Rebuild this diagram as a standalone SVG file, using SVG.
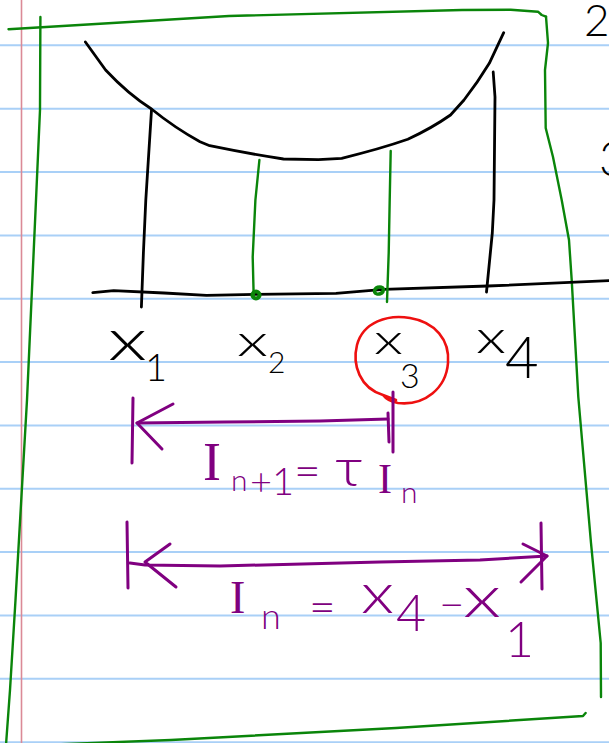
<svg xmlns="http://www.w3.org/2000/svg" width="609" height="743" viewBox="0 0 609 743">
<style>
.rule{stroke:#a9d0f7;stroke-width:2;fill:none}
.ink{fill:none;stroke-linecap:round;stroke-linejoin:round}
.blk{stroke:#000;stroke-width:2.8}
.grn{stroke:#0a850a;stroke-width:2.4}
.pur{stroke:#800080;stroke-width:3}
.red{stroke:#ee1010;stroke-width:2.6}
.t{font-family:Lato,"Open Sans","Liberation Sans",sans-serif;font-weight:300}
.s{font-family:"Liberation Serif","DejaVu Serif",serif;font-weight:400}
.tb{fill:#000}
.tp{fill:#800080}
</style>
<rect width="609" height="743" fill="#fff"/>
<g id="paper">
<path class="rule" d="M0,45.3H609M0,108.7H609M0,172H609M0,235.4H609M0,298.7H609M0,362H609M0,425.4H609M0,488.8H609M0,552.1H609M0,615.5H609M0,678.8H609M0,742.2H609"/>
<line x1="21.5" y1="0" x2="21.5" y2="743" stroke="#db8a96" stroke-width="1.6"/>
<text class="t tb" x="584" y="36" font-size="44" font-weight="400">20</text>
<text class="t tb" x="599" y="176" font-size="48" font-weight="400">3</text>
</g>
<g id="frame" class="ink grn">
<path d="M8.5,29.3 L229,16 L462,10 L510.7,9.7 L538,11.7 L541.7,15 L546,16.7"/>
<path d="M546,16.7 L548,43 L545,70 L545.7,128 L553,157 L561.7,200 L569,240 L571.7,280 L578.3,397 L591,543 L600.7,643 L601,697"/>
<path d="M40.4,17 L40,110 L36,200 L27,400 L15.5,600 L10,690 L6,745"/>
<path d="M585.6,713 L583,716 L396,728 L171,740 L40,745"/>
</g>
<g id="curve">
<path class="ink blk" d="M85.4,42 L105.6,70 Q128,94 151.5,109 Q175,128 200,141.7 L209.7,145.7 Q250,154 283.5,159 L318.4,159.7 L341.7,158.3 Q380,149 407.8,139.3 Q432,128 450.5,115 L464,100 Q478,82 489.3,63.3 L503.7,32.7"/>
</g>
<g id="axis">
<path class="ink blk" d="M92.8,292.7 L113.7,290.7 L164,293 L206.5,295.3 L255.4,294.3 L336,293.3 L383.6,289.3 L488,286 L609,280.7"/>
</g>
<g id="verticals">
<path class="ink blk" d="M151.5,110 L145.8,200 L143.4,253 L141.4,307"/>
<path class="ink grn" d="M259.4,160 L255.4,200 L252.7,257 L253.7,297"/>
<path class="ink grn" d="M390.7,151 L389.7,200 L388.7,253 L387,302"/>
<path class="ink blk" d="M493.2,72 L495,97 L494,200 L492.3,233 L486.5,292"/>
<ellipse cx="256" cy="295" rx="3.6" ry="3.4" fill="none" stroke="#0a850a" stroke-width="4"/>
<ellipse cx="379" cy="290.5" rx="4.6" ry="3.4" fill="none" stroke="#0a850a" stroke-width="3.6" transform="rotate(-20 379 290.5)"/>
</g>
<g id="labels">
<text class="t tb" x="108" y="360" font-size="58" textLength="39" lengthAdjust="spacingAndGlyphs">x</text>
<text class="t tb" x="145" y="381" font-size="38">1</text>
<text class="t tb" x="237" y="356" font-size="44" textLength="31" lengthAdjust="spacingAndGlyphs">x</text>
<text class="t tb" x="268" y="373" font-size="30">2</text>
<text class="t tb" x="374" y="354" font-size="42" textLength="29" lengthAdjust="spacingAndGlyphs">x</text>
<text class="t tb" x="400" y="388" font-size="34">3</text>
<text class="t tb" x="476" y="353" font-size="46" textLength="30" lengthAdjust="spacingAndGlyphs">x</text>
<text class="t tb" x="505" y="378" font-size="58">4</text>
</g>
<g id="highlight">
<path class="ink red" d="M383,395 C360,388 352,365 357,345 C363,322 388,314 410,318 C435,322 450,340 448,363 C446,388 425,406 398,403 C392,402 386,399 383,395 L396,400"/>
</g>
<g id="connectors" class="ink pur">
<path d="M133,398 L132,463"/>
<path d="M137,423 L225,422 L320,421 L388,419"/>
<path d="M173,404 L137,423 L162,449"/>
<path d="M388,413 L389,442 M393,392 L393,452"/>
<path d="M127,522 L128,588"/>
<path d="M130,563 L145,565 L220,566 L380,562 L480,560 L547,556"/>
<path d="M170,544 L145,562 L176,587"/>
<path d="M523,544 L547,556 L521,582"/>
<path d="M541,523 L542,589"/>
</g>
<g id="equations">
<text class="s tp" x="203" y="480" font-size="54">I</text>
<text class="t tp" x="231" y="491" font-size="30">n</text>
<text class="t tp" x="250" y="495" font-size="38">+1</text>
<text class="t tp" x="294" y="487" font-size="46">=</text>
<text class="t tp" x="335" y="486" font-size="54" textLength="28" lengthAdjust="spacingAndGlyphs">τ</text>
<text class="s tp" x="378" y="493" font-size="42">I</text>
<text class="t tp" x="401" y="503" font-size="30">n</text>
<text class="s tp" x="230" y="613" font-size="46">I</text>
<text class="t tp" x="261" y="629" font-size="36">n</text>
<text class="t tp" x="309" y="623" font-size="46">=</text>
<text class="t tp" x="361" y="613" font-size="56" textLength="33" lengthAdjust="spacingAndGlyphs">x</text>
<text class="t tp" x="396" y="631" font-size="52">4</text>
<text class="t tp" x="439" y="620" font-size="44">−</text>
<text class="t tp" x="463" y="617" font-size="58" textLength="38" lengthAdjust="spacingAndGlyphs">x</text>
<text class="t tp" x="505" y="657" font-size="50">1</text>
</g>
</svg>
